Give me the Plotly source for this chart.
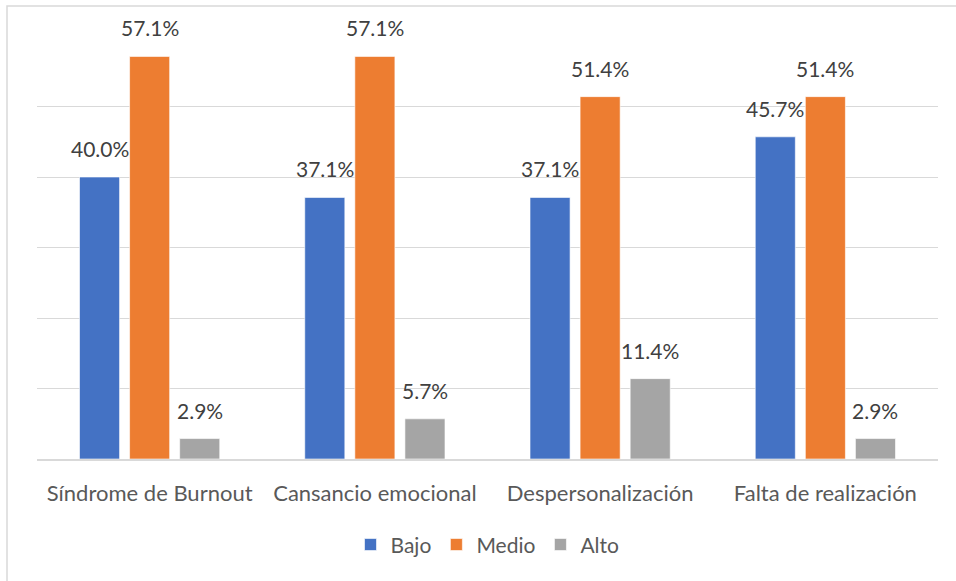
import plotly.graph_objects as go

# Dimensiones del síndrome de burnout y porcentaje por nivel
categorias = ["Síndrome de Burnout", "Cansancio emocional", "Despersonalización", "Falta de realización"]
bajo = [40.0, 37.1, 37.1, 45.7]
medio = [57.1, 57.1, 51.4, 51.4]
alto = [2.9, 5.7, 11.4, 2.9]

series = [("Bajo", bajo, "#4472C4"), ("Medio", medio, "#ED7D31"), ("Alto", alto, "#A5A5A5")]

FONT = "Lato"
fig = go.Figure()
for nombre, valores, color in series:
    fig.add_trace(go.Bar(
        name=nombre, x=categorias, y=valores,
        marker=dict(color=color, line=dict(color="rgba(255,255,255,0.6)", width=1)),
        hoverinfo="skip",
    ))

# Etiquetas de valor sobre cada barra
offsets = [-50, 0, 50]
for (nombre, valores, color), dx in zip(series, offsets):
    for cat, v in zip(categorias, valores):
        fig.add_annotation(
            x=cat, y=v, text=f"{v:.1f}%", showarrow=False,
            xshift=dx, yshift=14, yanchor="bottom",
            font=dict(family=FONT, size=21, color="#404040"),
        )

# Marco exterior del gráfico
fig.add_shape(type="rect", xref="paper", yref="paper",
              x0=-0.0333, x1=1.06, y0=-0.32, y1=1.0709,
              line=dict(color="#D9D9D9", width=1.5), fillcolor="rgba(0,0,0,0)", layer="below")

fig.update_layout(
    width=956, height=581,
    margin=dict(l=37, r=18, t=36, b=122),
    paper_bgcolor="white", plot_bgcolor="white",
    barmode="group", bargap=0.333, bargroupgap=0.2,
    font=dict(family=FONT, color="#595959"),
    legend=dict(orientation="h", x=0.5, xanchor="center", y=-0.203, yanchor="middle",
                font=dict(family=FONT, size=21, color="#595959"),
                itemwidth=30, traceorder="normal"),
    xaxis=dict(showline=True, linecolor="#D9D9D9", linewidth=2, ticks="",
               tickfont=dict(family=FONT, size=22, color="#595959"),
               ticklabelstandoff=14),
    yaxis=dict(range=[0, 60], dtick=10, showgrid=True, gridcolor="#D9D9D9", gridwidth=1,
               showticklabels=False, zeroline=False),
)

fig.write_html("out.html")
